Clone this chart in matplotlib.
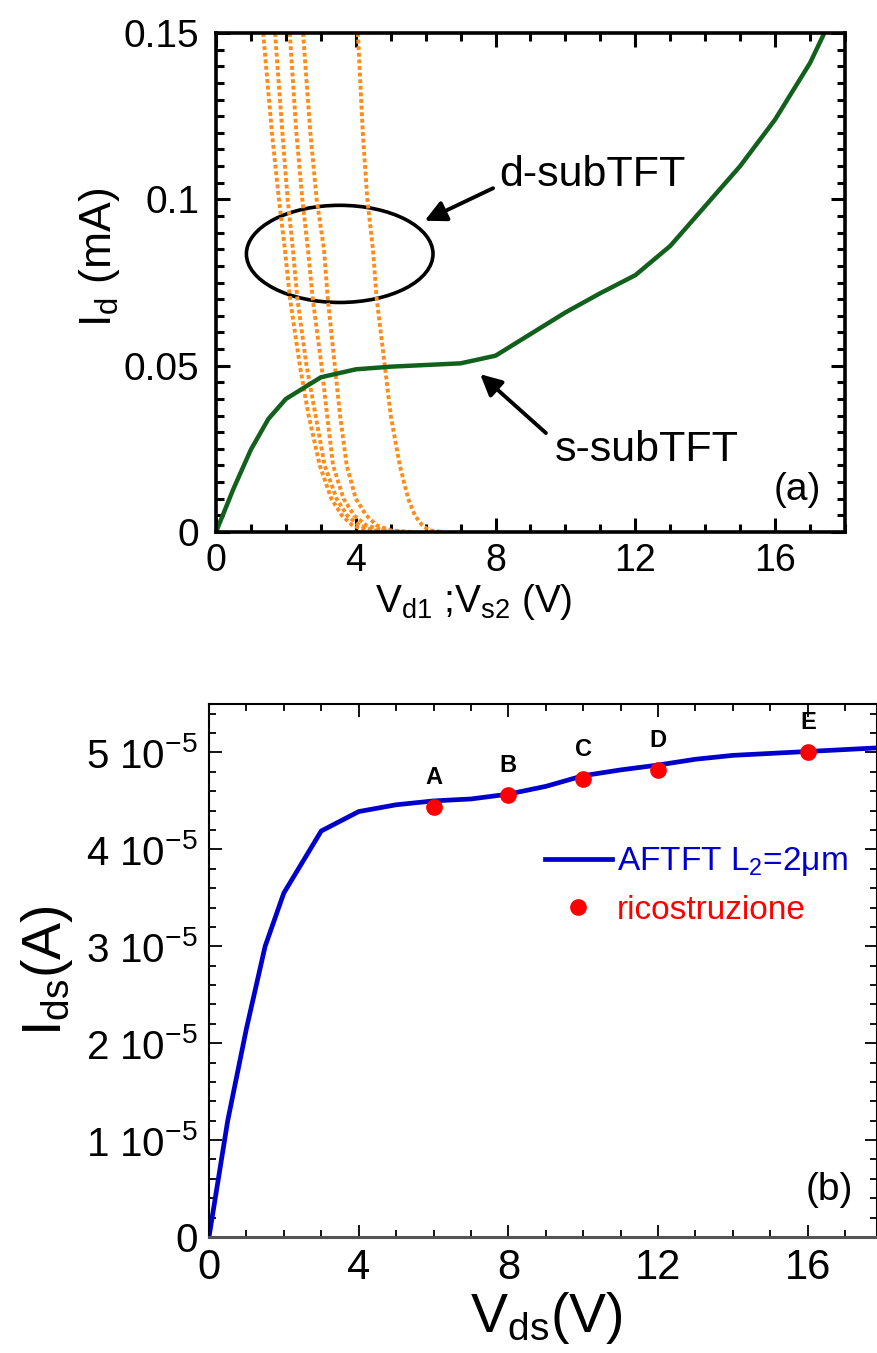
import matplotlib
matplotlib.use('Agg')
import matplotlib.pyplot as plt
from matplotlib.patches import Ellipse
from matplotlib.ticker import MultipleLocator, FixedLocator, FuncFormatter

plt.rcParams['font.family'] = ['Liberation Sans', 'DejaVu Sans']
plt.rcParams['mathtext.fontset'] = 'custom'
plt.rcParams['mathtext.rm'] = 'Liberation Sans'
plt.rcParams['mathtext.it'] = 'Liberation Sans:italic'
plt.rcParams['mathtext.bf'] = 'Liberation Sans:bold'

# panel (a): s-subTFT output curve (mA)
s_sub_v = [0, 0.5, 1, 1.5, 2, 3, 4, 5, 6, 7, 8, 9, 10, 11, 12, 13, 14, 15, 16, 17, 17.5]
s_sub_i = [0, 0.013, 0.0248, 0.034, 0.040, 0.0465, 0.0489, 0.0497, 0.0502, 0.0507,
           0.053, 0.0595, 0.066, 0.0718, 0.0772, 0.086, 0.098, 0.110, 0.124, 0.141, 0.152]

# panel (a): d-subTFT curves (five load lines), same current levels
d_sub_i = [0.15, 0.12, 0.10, 0.085, 0.07, 0.05, 0.035, 0.02, 0.01, 0.005, 0.002, 0.0005, 0]
d_sub_v1 = [1.35, 1.60, 1.80, 1.97, 2.12, 2.40, 2.65, 2.97, 3.30, 3.60, 3.90, 4.30, 4.80]
d_sub_v2 = [1.69, 1.90, 2.05, 2.20, 2.33, 2.59, 2.85, 3.11, 3.45, 3.75, 4.10, 4.50, 5.00]
d_sub_v3 = [2.11, 2.30, 2.47, 2.63, 2.77, 3.02, 3.18, 3.35, 3.65, 3.95, 4.30, 4.80, 5.40]
d_sub_v4 = [2.49, 2.70, 2.88, 3.09, 3.20, 3.40, 3.55, 3.74, 4.00, 4.30, 4.60, 5.00, 5.60]
d_sub_v5 = [4.06, 4.20, 4.33, 4.49, 4.60, 4.83, 5.00, 5.26, 5.50, 5.69, 5.90, 6.10, 6.50]

# panel (b): AFTFT L2=2um output curve (A)
aftft_v = [0, 0.5, 1, 1.5, 2, 3, 4, 5, 6, 7, 8, 9, 10, 11, 12, 13, 14, 15, 16, 17, 18]
aftft_i = [0, 1.2e-5, 2.15e-5, 3.0e-5, 3.55e-5, 4.19e-5, 4.39e-5, 4.46e-5, 4.50e-5, 4.52e-5,
           4.57e-5, 4.65e-5, 4.76e-5, 4.82e-5, 4.87e-5, 4.93e-5, 4.97e-5, 4.99e-5, 5.01e-5,
           5.03e-5, 5.05e-5]

# panel (b): reconstruction points
rec_v = [6, 8, 10, 12, 16]
rec_i = [4.44e-5, 4.56e-5, 4.73e-5, 4.82e-5, 5.0e-5]
rec_labels = ['A', 'B', 'C', 'D', 'E']

W, H = 878, 1353
fig = plt.figure(figsize=(W / 100, H / 100), dpi=100)

# ---------------- panel (a) ----------------
ax1 = fig.add_axes([216 / W, 1 - 532 / H, (845 - 216) / W, (532 - 33) / H])
orange = '#ff8c1a'
for v in [d_sub_v1, d_sub_v2, d_sub_v3, d_sub_v4, d_sub_v5]:
    ax1.plot(v, d_sub_i, color=orange, lw=2.8, ls=(0, (1, 0.7)))
ax1.plot(s_sub_v, s_sub_i, color='#11601c', lw=3.2)

ax1.add_patch(Ellipse((3.54, 0.0836), 5.34, 0.0292, fill=False, ec='k', lw=2.6))
ax1.annotate('', xy=(5.9, 0.0932), xytext=(8.0, 0.1037),
             arrowprops=dict(arrowstyle='-|>', lw=2.8, color='k', mutation_scale=32))
ax1.annotate('', xy=(7.5, 0.048), xytext=(9.5, 0.0292),
             arrowprops=dict(arrowstyle='-|>', lw=2.8, color='k', mutation_scale=32))
ax1.text(8.1, 0.1073, 'd-subTFT', fontsize=31, va='center', ha='left')
ax1.text(9.7, 0.0246, 's-subTFT', fontsize=31, va='center', ha='left')
ax1.text(17.3, 0.0126, '(a)', fontsize=28, va='center', ha='right')

ax1.set_xlim(0, 18)
ax1.set_ylim(0, 0.15)
ax1.xaxis.set_major_locator(MultipleLocator(4))
ax1.xaxis.set_minor_locator(MultipleLocator(1))
ax1.yaxis.set_major_locator(FixedLocator([0, 0.05, 0.1, 0.15]))
ax1.yaxis.set_minor_locator(MultipleLocator(0.005))
ax1.yaxis.set_major_formatter(FuncFormatter(lambda y, p: {0: '0', 1: '0.05', 2: '0.1', 3: '0.15'}[int(round(y / 0.05))]))
ax1.tick_params(which='both', direction='in', top=True, right=True, width=2.2)
ax1.tick_params(which='major', length=10, labelsize=27, pad=8)
ax1.tick_params(which='minor', length=6)
ax1.tick_params(axis='y', which='major', pad=12, labelsize=28)
for s in ax1.spines.values():
    s.set_linewidth(2.6)
ax1.set_xlabel('V$_{\\rm d1}$ ;V$_{\\rm s2}$ (V)', fontsize=28)
ax1.xaxis.set_label_coords(0.41, -0.1)
ax1.set_ylabel('I$_{\\rm d}$ (mA)', fontsize=32)
ax1.yaxis.set_label_coords(-0.15, 0.55)

# ---------------- panel (b) ----------------
ax2 = fig.add_axes([209 / W, 1 - 1237 / H, (877 - 209) / W, (1237 - 704) / H])
ax2.plot(aftft_v, aftft_i, color='#0000cc', lw=3.4, label='AFTFT L$_2$=2μm')
ax2.plot(rec_v, rec_i, 'o', color='#ff0000', ms=11, ls='none', label='ricostruzione')
for v, i, t in zip(rec_v, rec_i, rec_labels):
    ax2.annotate(t, (v, i), xytext=(0, 13), textcoords='offset points',
                 ha='center', va='bottom', fontsize=17, fontweight='bold')
ax2.text(17.2, 0.48e-5, '(b)', fontsize=28, va='center', ha='right')

ax2.set_xlim(0, 17.85)
ax2.set_ylim(0, 5.5e-5)
ax2.xaxis.set_major_locator(MultipleLocator(4))
ax2.xaxis.set_minor_locator(MultipleLocator(1))
ax2.yaxis.set_major_locator(FixedLocator([0, 1e-5, 2e-5, 3e-5, 4e-5, 5e-5]))
ax2.yaxis.set_minor_locator(MultipleLocator(2e-6))
ax2.yaxis.set_major_formatter(FuncFormatter(
    lambda y, p: '0' if abs(y) < 1e-9 else '%d 10$^{-5}$' % int(round(y / 1e-5))))
ax2.tick_params(which='both', direction='in', top=True, right=True, width=1.3)
ax2.tick_params(which='major', length=9, labelsize=30, pad=8)
ax2.tick_params(which='minor', length=5)
ax2.tick_params(axis='y', which='major', labelsize=29, pad=8)
for s in ax2.spines.values():
    s.set_linewidth(1.5)
ax2.spines['bottom'].set_linewidth(2.2)
ax2.spines['bottom'].set_color('#555555')
ax2.set_xlabel('V$_{\\rm ds}$(V)', fontsize=40)
ax2.xaxis.set_label_coords(0.505, -0.1)
ax2.set_ylabel('I$_{\\rm ds}$(A)', fontsize=40)
ax2.yaxis.set_label_coords(-0.2, 0.5)

ax2.legend(loc='upper left', bbox_to_anchor=(0.503, 0.735), frameon=False, fontsize=24,
           handlelength=2.0, handletextpad=0.15, labelspacing=0.5, borderpad=0,
           borderaxespad=0, labelcolor=['#0000cc', '#ff0000'])

fig.savefig('out.png', dpi=100)
